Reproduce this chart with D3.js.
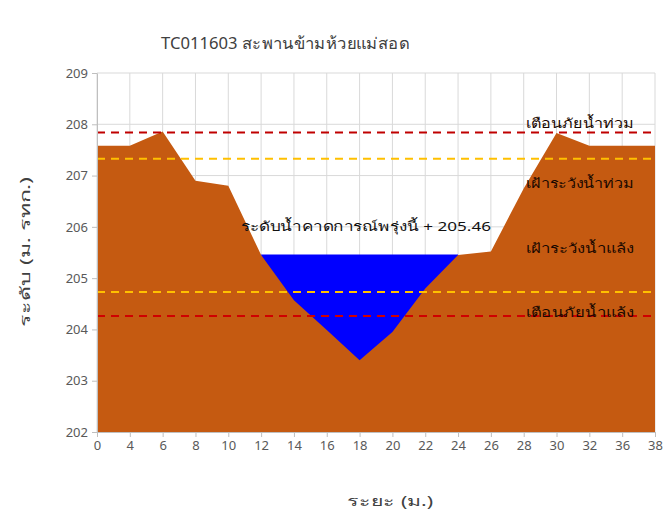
<!DOCTYPE html>
<html>
<head>
<meta charset="utf-8">
<script src="https://cdn.jsdelivr.net/npm/d3@7"></script>
<style>
  body { margin: 0; background: #fff; }
  svg text { font-family: Tahoma, "Noto Sans", "DejaVu Sans", sans-serif; }
</style>
</head>
<body>
<script>
// distance labels along the cross section (category axis)
const distLabels = ["0", "4", "6", "8", "10", "12", "14", "16", "18", "20", "22", "24", "26", "28", "30", "32", "36", "38"];
// ground level at each station (m. MSL)
const groundLevel = [207.58, 207.58, 207.86, 206.9, 206.8, 205.45, 204.57, 203.99, 203.4, 203.95, 204.8, 205.45, 205.52, 206.75, 207.83, 207.58, 207.58, 207.58];
// forecast water level for tomorrow
const waterLevel = 205.46;
// threshold lines
const thresholds = [
  {name: "เตือนภัยน้ำท่วม", value: 207.84, color: "#C00000"},
  {name: "เฝ้าระวังน้ำท่วม", value: 207.33, color: "#FFC000"},
  {name: "เฝ้าระวังน้ำแล้ง", value: 204.73, color: "#FFC000"},
  {name: "เตือนภัยน้ำแล้ง", value: 204.26, color: "#D00000"}
];
const yTicks = [202, 203, 204, 205, 206, 207, 208, 209];

const W = 666, H = 522;
const plot = {left: 97, right: 655, top: 73, bottom: 432};

const svg = d3.select("body").append("svg")
  .attr("width", W)
  .attr("height", H);

const idx = distLabels.map((d, i) => i);

const xScale = d3.scalePoint()
  .domain(idx)
  .range([plot.left, plot.right]);

const yScale = d3.scaleLinear()
  .domain([202, 209])
  .range([plot.bottom, plot.top]);

// grid lines
svg.append("g")
  .selectAll("line.hgrid")
  .data(yTicks)
  .enter().append("line")
    .attr("x1", plot.left).attr("x2", plot.right)
    .attr("y1", d => yScale(d)).attr("y2", d => yScale(d))
    .attr("stroke", "#d9d9d9").attr("stroke-width", 1);

svg.append("g")
  .selectAll("line.vgrid")
  .data(idx)
  .enter().append("line")
    .attr("x1", d => xScale(d)).attr("x2", d => xScale(d))
    .attr("y1", plot.top).attr("y2", plot.bottom)
    .attr("stroke", "#d9d9d9").attr("stroke-width", 1);

// water (drawn first, ground covers what is below the bank)
const wetIdx = idx.filter(i => i >= 5 && i <= 11);
const waterArea = d3.area()
  .x(d => xScale(d))
  .y0(yScale(202))
  .y1(yScale(waterLevel));
svg.append("path")
  .datum(wetIdx)
  .attr("d", waterArea)
  .attr("fill", "#0000FF");

// ground profile
const groundArea = d3.area()
  .x((d, i) => xScale(i))
  .y0(yScale(202))
  .y1(d => yScale(d));
svg.append("path")
  .datum(groundLevel)
  .attr("d", groundArea)
  .attr("fill", "#C55A11");

// threshold dashed lines
svg.append("g")
  .selectAll("line")
  .data(thresholds)
  .enter().append("line")
    .attr("x1", plot.left).attr("x2", plot.right)
    .attr("y1", d => yScale(d.value)).attr("y2", d => yScale(d.value))
    .attr("stroke", d => d.color)
    .attr("stroke-width", 2)
    .attr("stroke-dasharray", "8,6");

// axes
const yAxis = svg.append("g")
  .attr("transform", "translate(" + plot.left + ",0)")
  .call(d3.axisLeft(yScale).tickValues(yTicks).tickFormat(d3.format("d")).tickSize(5).tickSizeOuter(0));
const xAxis = svg.append("g")
  .attr("transform", "translate(0," + plot.bottom + ")")
  .call(d3.axisBottom(xScale).tickFormat(i => distLabels[i]).tickSize(5).tickSizeOuter(0));

[yAxis, xAxis].forEach(ax => {
  ax.select(".domain").attr("stroke", "#bfbfbf");
  ax.selectAll(".tick line").attr("stroke", "#bfbfbf");
  ax.selectAll(".tick text").attr("fill", "#595959").style("font-size", "13px");
});
yAxis.selectAll(".tick text").attr("x", -9);
xAxis.selectAll(".tick text").attr("y", 9);

// labels on the thresholds
const labelY = [125, 185, 250, 314];
svg.append("g")
  .selectAll("text")
  .data(thresholds)
  .enter().append("text")
    .attr("x", 580)
    .attr("y", (d, i) => labelY[i])
    .attr("text-anchor", "middle")
    .attr("dominant-baseline", "middle")
    .attr("textLength", 108)
    .attr("lengthAdjust", "spacingAndGlyphs")
    .style("font-size", "13px")
    .attr("fill", "#1a0800")
    .text(d => d.name);

// water label
svg.append("text")
  .attr("x", 366)
  .attr("y", 228)
  .attr("text-anchor", "middle")
  .attr("dominant-baseline", "middle")
  .attr("textLength", 250)
  .attr("lengthAdjust", "spacingAndGlyphs")
  .style("font-size", "13px")
  .attr("fill", "#111")
  .text("ระดับน้ำคาดการณ์พรุ่งนี้ + " + waterLevel.toFixed(2));

// title and axis titles
svg.append("text")
  .attr("x", 285)
  .attr("y", 45)
  .attr("text-anchor", "middle")
  .attr("dominant-baseline", "middle")
  .attr("textLength", 248)
  .attr("lengthAdjust", "spacingAndGlyphs")
  .style("font-size", "16px")
  .attr("fill", "#404040")
  .text("TC011603 สะพานข้ามห้วยแม่สอด");

svg.append("text")
  .attr("transform", "translate(26,252) rotate(-90)")
  .attr("text-anchor", "middle")
  .attr("dominant-baseline", "middle")
  .attr("textLength", 150)
  .attr("lengthAdjust", "spacingAndGlyphs")
  .style("font-size", "14px")
  .attr("fill", "#404040")
  .text("ระดับ (ม. รทก.)");

svg.append("text")
  .attr("x", 390)
  .attr("y", 502)
  .attr("text-anchor", "middle")
  .attr("dominant-baseline", "middle")
  .attr("textLength", 86)
  .attr("lengthAdjust", "spacingAndGlyphs")
  .style("font-size", "14px")
  .attr("fill", "#404040")
  .text("ระยะ (ม.)");
</script>
</body>
</html>
